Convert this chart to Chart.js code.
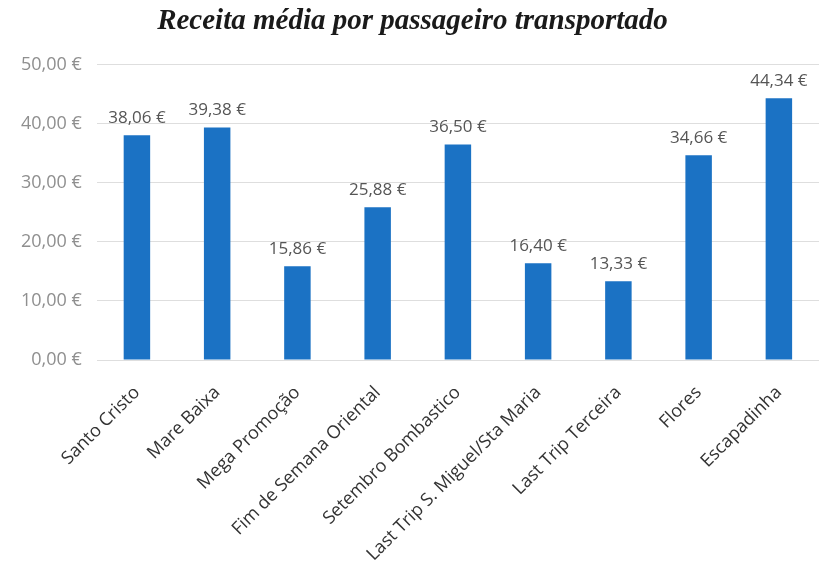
<!DOCTYPE html>
<html>
<head>
<meta charset="utf-8">
<script src="https://cdn.jsdelivr.net/npm/chart.js@4"></script>
<style>
  html, body { margin: 0; padding: 0; background: #fff; }
  #wrap { width: 819px; height: 563px; position: relative; }
</style>
</head>
<body>
<div id="wrap"><canvas id="revenueChart"></canvas></div>
<script>
const categories = [
    'Santo Cristo', 'Mare Baixa', 'Mega Promoção', 'Fim de Semana Oriental',
    'Setembro Bombastico', 'Last Trip S. Miguel/Sta Maria', 'Last Trip Terceira',
    'Flores', 'Escapadinha'
];
const avgRevenue = [38.06, 39.38, 15.86, 25.88, 36.50, 16.40, 13.33, 34.66, 44.34];
const yTicks = [0, 10, 20, 30, 40, 50];

const euro = v => v.toFixed(2).replace('.', ',') + ' €';

// draws the value above each bar
const valueLabels = {
    id: 'valueLabels',
    afterDatasetsDraw(chart) {
        const ctx = chart.ctx;
        const meta = chart.getDatasetMeta(0);
        ctx.save();
        ctx.font = '17px "Open Sans", sans-serif';
        ctx.fillStyle = '#555';
        ctx.textAlign = 'center';
        ctx.textBaseline = 'bottom';
        meta.data.forEach((bar, i) => {
            ctx.fillText(euro(avgRevenue[i]), bar.x, bar.y - 9);
        });
        ctx.restore();
    }
};

const ctx = document.getElementById('revenueChart').getContext('2d');
new Chart(ctx, {
    type: 'bar',
    data: {
        labels: categories,
        datasets: [{
            data: avgRevenue,
            backgroundColor: '#1b72c4',
            barPercentage: 0.33,
            categoryPercentage: 1.0
        }]
    },
    options: {
        responsive: true,
        maintainAspectRatio: false,
        animation: false,
        layout: { padding: { left: 6, right: 0, top: 0, bottom: 0 } },
        plugins: {
            legend: { display: false },
            tooltip: { enabled: false },
            title: {
                display: true,
                text: 'Receita média por passageiro transportado',
                font: { family: '"Liberation Serif", serif', size: 29, style: 'italic', weight: 'bold', lineHeight: 1.2 },
                color: '#1a1a1a',
                padding: { top: 4, bottom: 26 }
            }
        },
        scales: {
            x: {
                grid: { display: false },
                border: { display: false },
                afterFit: scale => { scale.height = 203; },
                ticks: {
                    color: '#333',
                    padding: 14,
                    font: { family: '"Open Sans", sans-serif', size: 18 },
                    minRotation: 45,
                    maxRotation: 45,
                    autoSkip: false
                }
            },
            y: {
                min: 0,
                max: 50,
                afterBuildTicks: axis => { axis.ticks = yTicks.map(v => ({ value: v })); },
                grid: { color: '#dedede', drawTicks: false },
                border: { display: false },
                ticks: {
                    color: '#8f8f8f',
                    padding: 15,
                    font: { family: '"Open Sans", sans-serif', size: 18 },
                    callback: v => euro(v)
                }
            }
        }
    },
    plugins: [valueLabels]
});
</script>
</body>
</html>
